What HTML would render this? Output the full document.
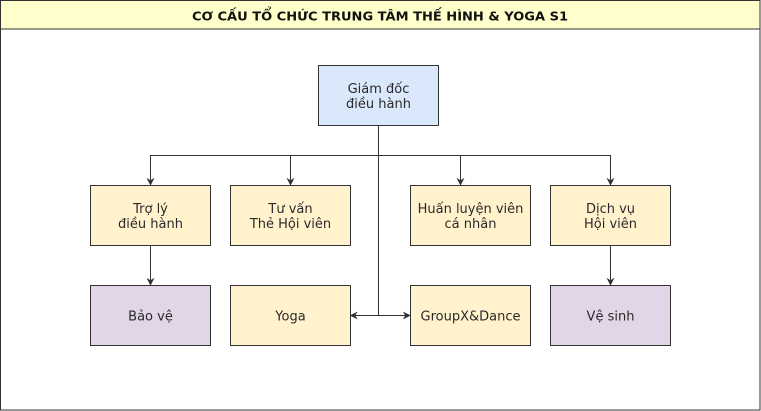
<!DOCTYPE html>
<html><head><meta charset="utf-8"><style>
html,body{margin:0;padding:0;background:#fff;}
svg{display:block;}
text{font-family:"DejaVu Sans","Liberation Sans",sans-serif;font-size:13px;fill:#2a2a2a;}
</style></head><body>
<svg width="761" height="411" viewBox="0 0 761 411" xmlns="http://www.w3.org/2000/svg">
<defs>
<marker id="a" viewBox="0 0 10 10" refX="9" refY="5" markerWidth="8" markerHeight="8" markerUnits="userSpaceOnUse" orient="auto-start-reverse">
<path d="M0,0 L10,5 L0,10 L3,5 Z" fill="#333"/>
</marker>
</defs>
<rect x="0.5" y="0.5" width="759.5" height="409.5" fill="#fff" stroke="#333"/>
<rect x="0.5" y="0.5" width="759.5" height="28.5" fill="#ffffcc" stroke="#333"/>
<text x="380" y="20.5" text-anchor="middle" style="font-weight:bold;font-size:12px;fill:#111" textLength="376" lengthAdjust="spacingAndGlyphs">CƠ CẤU TỔ CHỨC TRUNG TÂM THẾ HÌNH &amp; YOGA S1</text>

<g stroke="#333" fill="none" stroke-width="1">
<path d="M378.5,125.5 V315.5"/>
<path d="M150.5,185 V155.5 H610.5 V185" marker-start="url(#a)" marker-end="url(#a)"/>
<path d="M290.5,155.5 V185" marker-end="url(#a)"/>
<path d="M460.5,155.5 V185" marker-end="url(#a)"/>
<path d="M150.5,245.5 V285" marker-end="url(#a)"/>
<path d="M610.5,245.5 V285" marker-end="url(#a)"/>
<path d="M350.5,315.5 H410" marker-start="url(#a)" marker-end="url(#a)"/>
</g>

<g stroke="#333" stroke-width="1">
<rect x="318.5" y="65.5" width="120" height="60" fill="#dae8fc"/>
<rect x="90.5" y="185.5" width="120" height="60" fill="#fff2cc"/>
<rect x="230.5" y="185.5" width="120" height="60" fill="#fff2cc"/>
<rect x="410.5" y="185.5" width="120" height="60" fill="#fff2cc"/>
<rect x="550.5" y="185.5" width="120" height="60" fill="#fff2cc"/>
<rect x="90.5" y="285.5" width="120" height="60" fill="#e1d5e7"/>
<rect x="230.5" y="285.5" width="120" height="60" fill="#fff2cc"/>
<rect x="410.5" y="285.5" width="120" height="60" fill="#fff2cc"/>
<rect x="550.5" y="285.5" width="120" height="60" fill="#e1d5e7"/>
</g>

<g text-anchor="middle">
<text x="378.5" y="93">Giám đốc</text>
<text x="378.5" y="108">điều hành</text>
<text x="150.5" y="213">Trợ lý</text>
<text x="150.5" y="228">điều hành</text>
<text x="290.5" y="213">Tư vấn</text>
<text x="290.5" y="228">Thẻ Hội viên</text>
<text x="470.5" y="213">Huấn luyện viên</text>
<text x="470.5" y="228">cá nhân</text>
<text x="610.5" y="213">Dịch vụ</text>
<text x="610.5" y="228">Hội viên</text>
<text x="150.5" y="320.5">Bảo vệ</text>
<text x="290.5" y="320.5">Yoga</text>
<text x="470.5" y="320.5">GroupX&amp;Dance</text>
<text x="610.5" y="320.5">Vệ sinh</text>
</g>
</svg>
</body></html>
